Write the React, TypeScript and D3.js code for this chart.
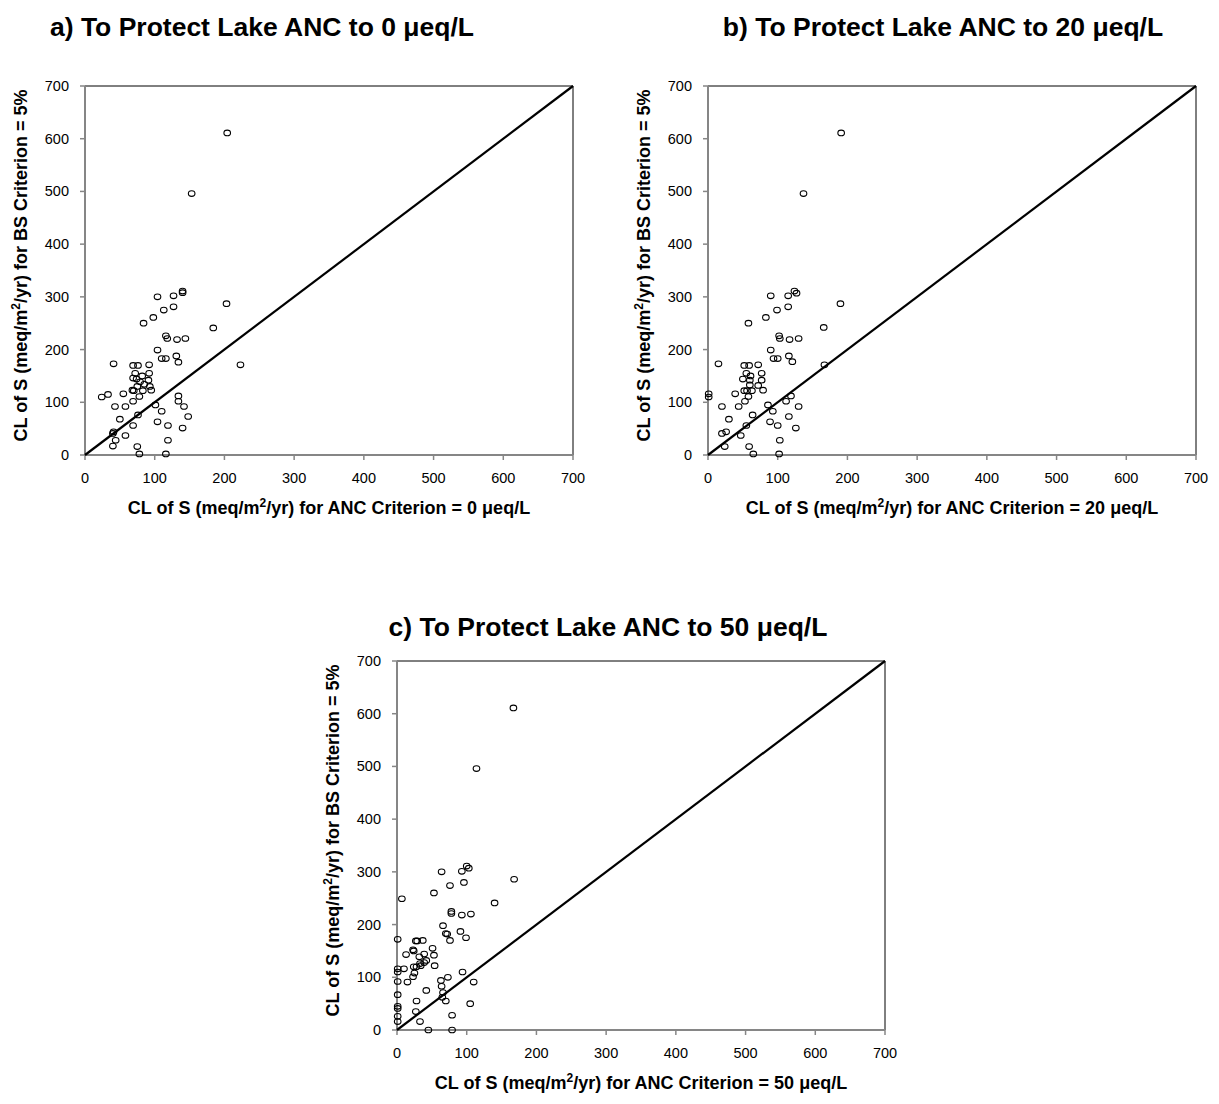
import React from "react";
import * as d3 from "d3";

// Panel a: ANC criterion = 0 µeq/L
const aX = [104,127,140,140,203,113,127,98,84,184,116,118,132,144,104,110,116,131,134,223,41,69,76,92,72,82,92,69,74,91,79,85,75,93,68,70,83,95,78,24,33,55,69,43,58,101,134,134,142,76,110,148,50,104,69,119,140,40,41,58,44,119,40,75,78,116,204,153];
const aY = [300,302,311,308,287,275,281,261,250,241,226,221,219,221,199,183,183,188,176,171,173,170,170,171,155,150,155,146,144,142,139,134,130,130,123,122,122,123,111,110,115,116,102,92,92,95,112,102,92,76,83,73,68,63,56,56,51,41,44,37,28,28,17,16,2,2,611,496];

// Panel b: ANC criterion = 20 µeq/L
const bX = [90,115,124,127,190,99,115,83,58,166,102,103,117,130,90,94,100,116,121,167,15,52,59,72,55,61,77,50,60,77,60,72,52,56,63,79,58,39,53,1,1,20,44,86,119,112,130,64,93,116,30,89,55,100,126,20,26,47,24,103,59,65,102,191,137];
const bY = [302,302,311,307,287,275,281,261,250,242,226,221,219,221,199,183,183,188,177,171,173,170,170,171,155,150,155,144,142,142,133,132,122,122,122,123,111,116,102,116,110,92,92,95,112,102,92,76,83,73,68,63,56,56,51,41,44,37,16,28,16,2,2,611,496];

// Panel c: ANC criterion = 50 µeq/L
const cX = [64,93,100,103,168,96,76,53,7,140,78,78,93,106,66,70,72,91,99,76,1,27,29,37,23,51,13,24,32,39,53,42,33,39,24,28,34,54,1,1,10,25,23,94,1,15,63,73,110,64,42,66,1,65,70,28,105,1,1,27,1,79,1,33,45,79,167,114];
const cY = [300,301,311,307,286,280,274,260,249,241,225,221,218,220,198,183,182,187,175,170,172,169,169,170,152,155,143,150,139,144,142,132,126,128,120,120,122,122,116,110,116,108,101,110,92,91,94,100,91,83,75,71,67,62,55,55,50,45,41,35,26,28,16,16,0,0,611,496];

const ticks = [0, 100, 200, 300, 400, 500, 600, 700];
const titles = ["a) To Protect Lake ANC to 0 μeq/L", "b) To Protect Lake ANC to 20 μeq/L", "c) To Protect Lake ANC to 50 μeq/L"];
const ancValues = ["0", "20", "50"];

const FONT = "Arial, 'Liberation Sans', Helvetica, sans-serif";
const PW = 488;
const PH = 369;

const layout = [
  { left: 85, top: 86, titleX: 262, titleY: 36 },
  { left: 708, top: 86, titleX: 943, titleY: 36 },
  { left: 397, top: 661, titleX: 608, titleY: 636 },
];

const data = [
  { xs: aX, ys: aY },
  { xs: bX, ys: bY },
  { xs: cX, ys: cY },
];

function Panel({ idx }: { idx: number }) {
  const L = layout[idx];
  const { xs, ys } = data[idx];
  const x = d3.scaleLinear().domain([0, 700]).range([L.left, L.left + PW]);
  const y = d3.scaleLinear().domain([0, 700]).range([L.top + PH, L.top]);
  const bottom = L.top + PH;
  const right = L.left + PW;
  const axisColor = "#868686";
  return (
    <g>
      <text x={L.titleX} y={L.titleY} textAnchor="middle" fontFamily={FONT} fontWeight="bold" fontSize={26.5}>
        {titles[idx]}
      </text>
      {/* frame: top and right */}
      <line x1={L.left} x2={right} y1={L.top} y2={L.top} stroke="#000" strokeWidth={1} />
      <line x1={right} x2={right} y1={L.top} y2={bottom} stroke="#000" strokeWidth={1} />
      {/* axes */}
      <line x1={L.left} x2={L.left} y1={L.top} y2={bottom} stroke={axisColor} strokeWidth={2} />
      <line x1={L.left} x2={right} y1={bottom} y2={bottom} stroke={axisColor} strokeWidth={2} />
      {ticks.map((t) => (
        <g key={"y" + t}>
          <line x1={L.left - 5} x2={L.left} y1={y(t)} y2={y(t)} stroke={axisColor} strokeWidth={1.5} />
          <text x={L.left - 16} y={y(t) + 5} textAnchor="end" fontFamily={FONT} fontSize={14.5}>
            {t}
          </text>
        </g>
      ))}
      {ticks.map((t) => (
        <g key={"x" + t}>
          <line x1={x(t)} x2={x(t)} y1={bottom} y2={bottom + 5} stroke={axisColor} strokeWidth={1.5} />
          <text x={x(t)} y={bottom + 28} textAnchor="middle" fontFamily={FONT} fontSize={14.5}>
            {t}
          </text>
        </g>
      ))}
      {/* 1:1 line */}
      <line x1={x(0)} y1={y(0)} x2={x(700)} y2={y(700)} stroke="#000" strokeWidth={2.2} />
      {xs.map((v, i) => (
        <ellipse key={i} cx={x(v)} cy={y(ys[i])} rx={3.3} ry={2.8} fill="none" stroke="#000" strokeWidth={1.1} />
      ))}
      <text x={(L.left + right) / 2} y={bottom + 59} textAnchor="middle" fontFamily={FONT} fontWeight="bold" fontSize={18}>
        CL of S (meq/m<tspan dy={-7} fontSize={12}>2</tspan>
        <tspan dy={7}>/yr) for ANC Criterion = {ancValues[idx]} μeq/L</tspan>
      </text>
      <text
        transform={`translate(${L.left - 58},${(L.top + bottom) / 2 - 5}) rotate(-90)`}
        textAnchor="middle"
        fontFamily={FONT}
        fontWeight="bold"
        fontSize={18}
      >
        CL of S (meq/m<tspan dy={-7} fontSize={12}>2</tspan>
        <tspan dy={7}>/yr) for BS Criterion = 5%</tspan>
      </text>
    </g>
  );
}

export default function App() {
  return (
    <svg
      width={1219}
      height={1104}
      style={{ position: "absolute", left: 0, top: 0, background: "#fff" }}
    >
      <rect width={1219} height={1104} fill="#fff" />
      {[0, 1, 2].map((i) => (
        <Panel key={i} idx={i} />
      ))}
    </svg>
  );
}
